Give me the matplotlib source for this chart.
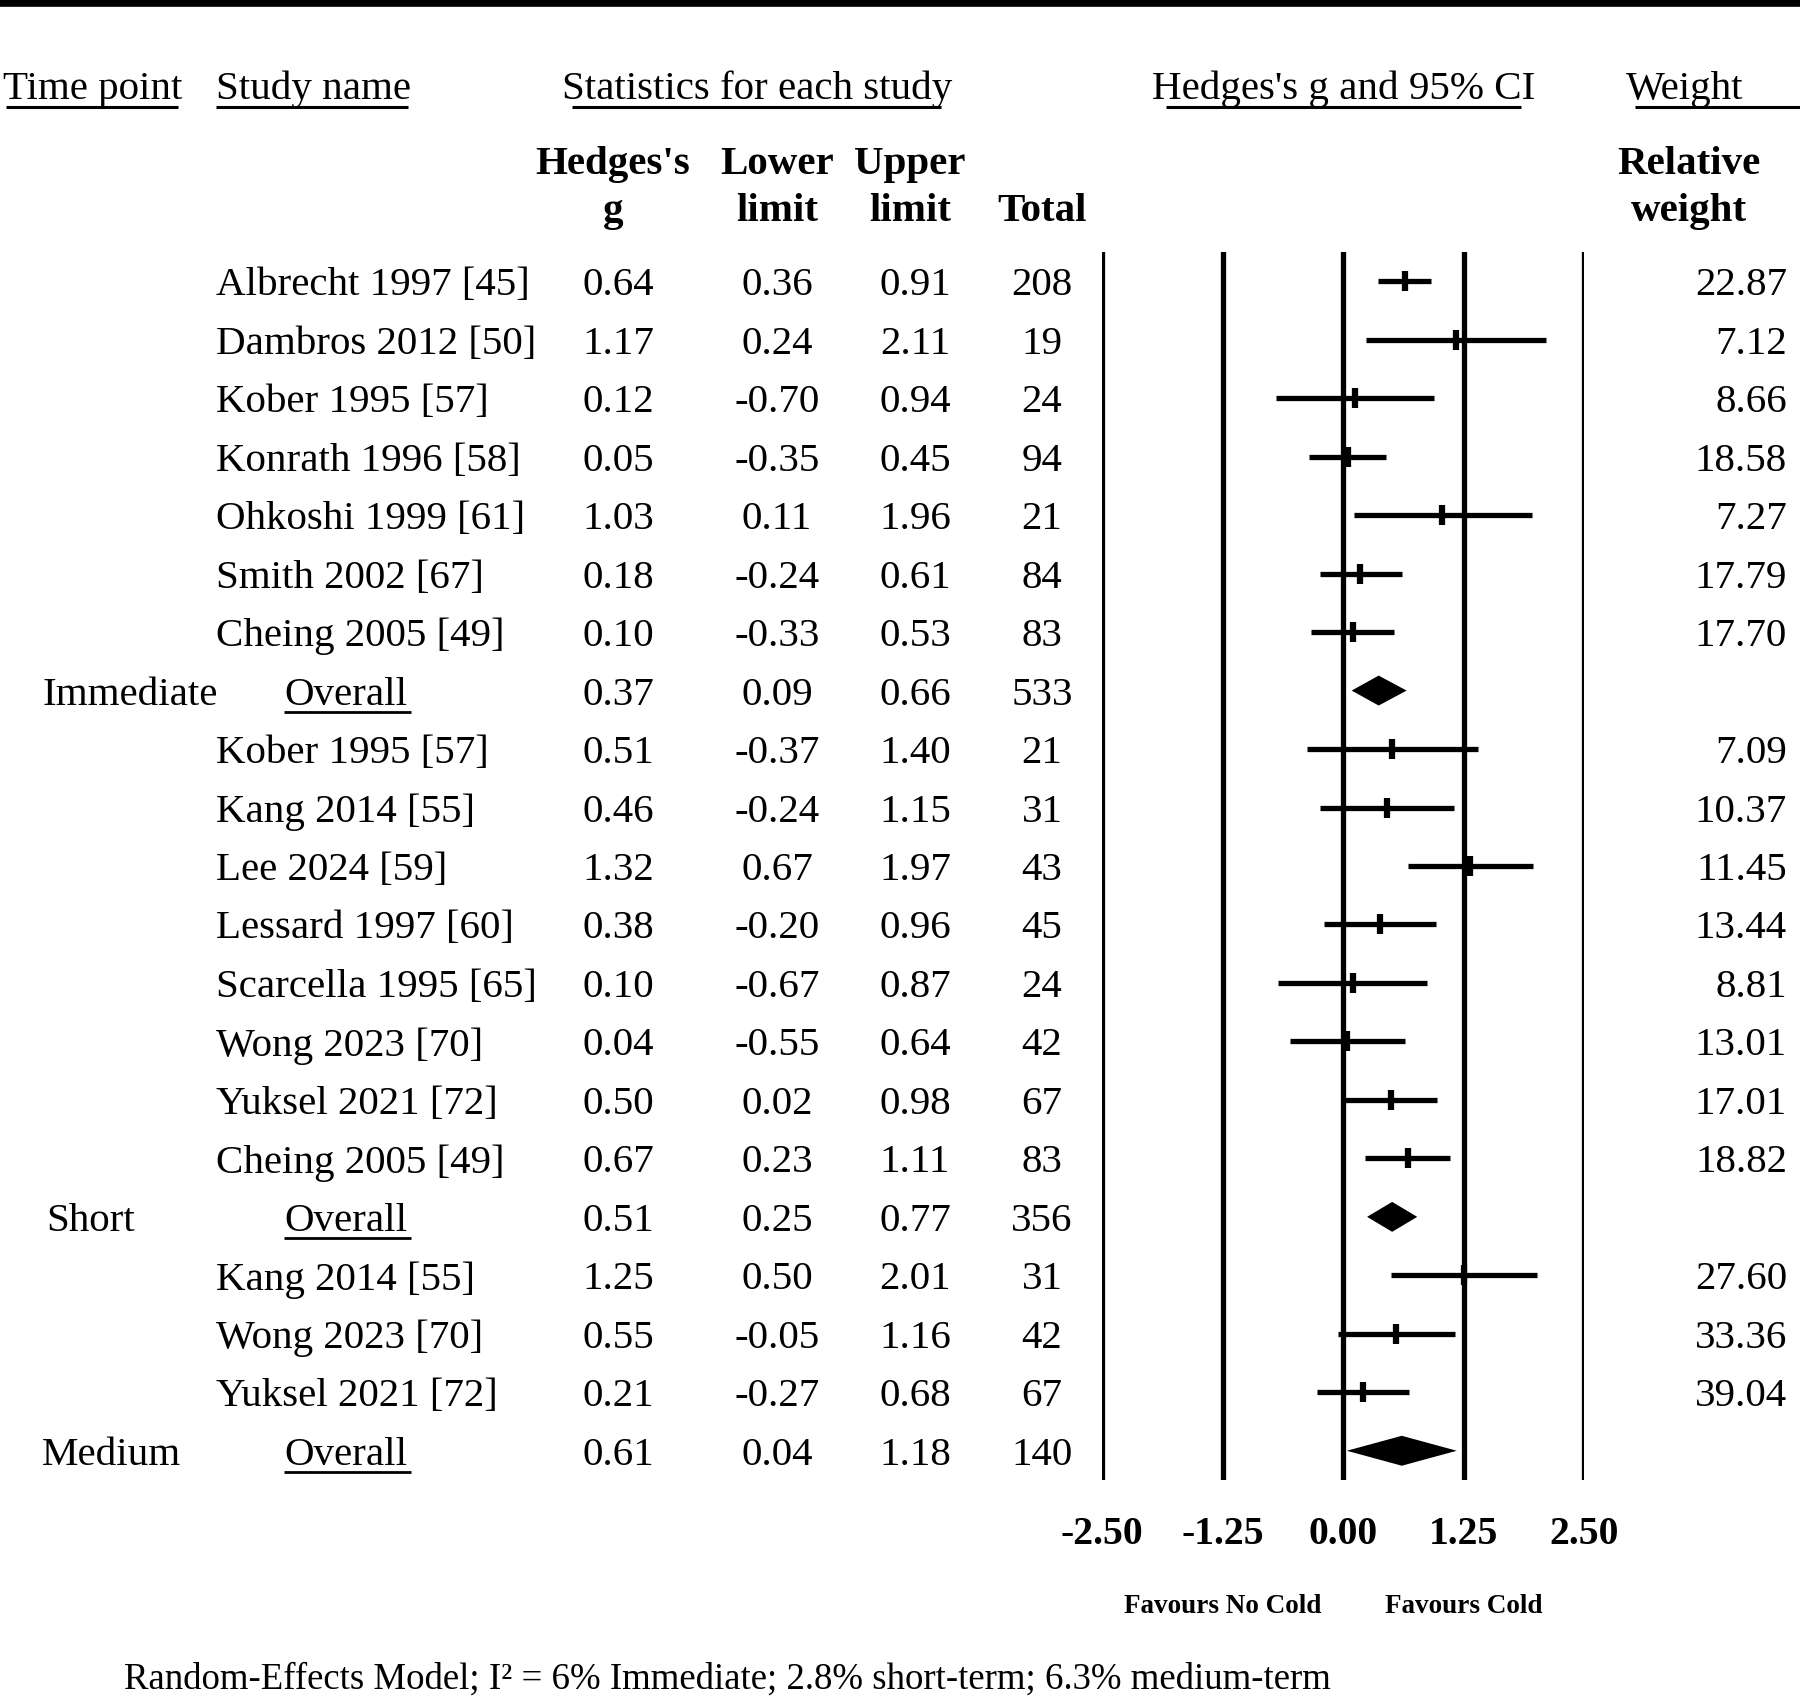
import matplotlib
matplotlib.use("Agg")
import matplotlib.pyplot as plt

plt.rcParams['font.family'] = ['Liberation Serif', 'DejaVu Serif']

# ---- data ----
time_point = [""] * 7 + ["Immediate"] + [""] * 8 + ["Short"] + [""] * 3 + ["Medium"]
study = ["Albrecht 1997 [45]", "Dambros 2012 [50]", "Kober 1995 [57]", "Konrath 1996 [58]",
         "Ohkoshi 1999 [61]", "Smith 2002 [67]", "Cheing 2005 [49]", "Overall",
         "Kober 1995 [57]", "Kang 2014 [55]", "Lee 2024 [59]", "Lessard 1997 [60]",
         "Scarcella 1995 [65]", "Wong 2023 [70]", "Yuksel 2021 [72]", "Cheing 2005 [49]", "Overall",
         "Kang 2014 [55]", "Wong 2023 [70]", "Yuksel 2021 [72]", "Overall"]
hedges_g = [0.64, 1.17, 0.12, 0.05, 1.03, 0.18, 0.10, 0.37,
            0.51, 0.46, 1.32, 0.38, 0.10, 0.04, 0.50, 0.67, 0.51,
            1.25, 0.55, 0.21, 0.61]
lower = [0.36, 0.24, -0.70, -0.35, 0.11, -0.24, -0.33, 0.09,
         -0.37, -0.24, 0.67, -0.20, -0.67, -0.55, 0.02, 0.23, 0.25,
         0.50, -0.05, -0.27, 0.04]
upper = [0.91, 2.11, 0.94, 0.45, 1.96, 0.61, 0.53, 0.66,
         1.40, 1.15, 1.97, 0.96, 0.87, 0.64, 0.98, 1.11, 0.77,
         2.01, 1.16, 0.68, 1.18]
total = [208, 19, 24, 94, 21, 84, 83, 533,
         21, 31, 43, 45, 24, 42, 67, 83, 356,
         31, 42, 67, 140]
weight = [22.87, 7.12, 8.66, 18.58, 7.27, 17.79, 17.70, None,
          7.09, 10.37, 11.45, 13.44, 8.81, 13.01, 17.01, 18.82, None,
          27.60, 33.36, 39.04, None]
ticks = [-2.50, -1.25, 0.00, 1.25, 2.50]
footnote = "Random-Effects Model; I\u00b2 = 6% Immediate; 2.8% short-term; 6.3% medium-term"

# ---- layout (pixels of the 1800x1699 canvas) ----
W, H = 1800, 1699
ROW0, STEP = 282.2, 58.48
FS = 29.5
DY = 0.06  # nudge text down so glyphs sit on the row centre


def r(ypix):
    return (ypix - ROW0) / STEP


fig = plt.figure(figsize=(W / 100, H / 100), dpi=100)
ax = fig.add_axes([0, 0, 1, 1])
ax.set_xlim(0, W)
ax.set_ylim(r(H), r(0))
ax.axis("off")

# top rule
ax.axhline(r(3.5), color="black", lw=5.5)

# header row 1 (underlined)
hdr_y = r(86) + DY
ul_y = r(108)
ax.text(3, hdr_y, "Time point", fontsize=FS, va="center", ha="left")
ax.hlines(ul_y, 6, 178, color="black", lw=2.2)
ax.text(216, hdr_y, "Study name", fontsize=FS, va="center", ha="left")
ax.hlines(ul_y, 216, 408, color="black", lw=2.2)
ax.text(757, hdr_y, "Statistics for each study", fontsize=FS, va="center", ha="center")
ax.hlines(ul_y, 572, 941, color="black", lw=2.2)
ax.text(1344, hdr_y, "Hedges's g and 95% CI", fontsize=FS, va="center", ha="center")
ax.hlines(ul_y, 1166, 1521, color="black", lw=2.2)
ax.text(1626, hdr_y, "Weight", fontsize=FS, va="center", ha="left")
ax.hlines(ul_y, 1635, W, color="black", lw=2.2)

# header rows 2-3 (bold)
l1, l2 = r(161) + DY, r(208) + DY
for x, a, b in [(613, "Hedges's", "g"), (777, "Lower", "limit"),
                (910, "Upper", "limit"), (1689, "Relative", "weight")]:
    ax.text(x, l1, a, fontsize=FS, fontweight="bold", va="center", ha="center")
    ax.text(x, l2, b, fontsize=FS, fontweight="bold", va="center", ha="center")
ax.text(1042, l2, "Total", fontsize=FS, fontweight="bold", va="center", ha="center")

# table body
for i in range(len(study)):
    y = i + DY
    if time_point[i]:
        x0 = 46 if time_point[i] == "Short" else 42
        ax.text(x0, y, time_point[i], fontsize=FS, va="center", ha="left")
    if study[i] == "Overall":
        ax.text(284, y, study[i], fontsize=FS, va="center", ha="left")
        ax.hlines(i + 0.36, 284, 411, color="black", lw=2.0)
    else:
        ax.text(216, y, study[i], fontsize=FS, va="center", ha="left")
    ax.text(618, y, f"{hedges_g[i]:.2f}", fontsize=FS, va="center", ha="center")
    ax.text(777, y, f"{lower[i]:.2f}", fontsize=FS, va="center", ha="center")
    ax.text(915, y, f"{upper[i]:.2f}", fontsize=FS, va="center", ha="center")
    ax.text(1042, y, f"{total[i]}", fontsize=FS, va="center", ha="center")
    if weight[i] is not None:
        ax.text(1787, y, f"{weight[i]:.2f}", fontsize=FS, va="center", ha="right")

ax.text(124, r(1689), footnote, fontsize=26.5, va="baseline", ha="left")

# ---- forest panel ----
fx0, fx1 = 1102, 1584
fy0, fy1 = 253, 1481
fa = fig.add_axes([fx0 / W, 1 - fy1 / H, (fx1 - fx0) / W, (fy1 - fy0) / H])
fa.set_xlim(-2.5, 2.5)
fa.set_ylim(len(study) - 0.5, -0.5)
for s in fa.spines.values():
    s.set_visible(False)
fa.patch.set_alpha(0)
for t in ticks:
    fa.axvline(t, color="black", lw=3.8, zorder=1)

for i in range(len(study)):
    if study[i] == "Overall":
        h = 0.256
        fa.fill([lower[i], hedges_g[i], upper[i], hedges_g[i]],
                [i, i - h, i, i + h], color="black", lw=0, zorder=3)
    else:
        fa.plot([lower[i], upper[i]], [i, i], color="black", lw=3.8,
                solid_capstyle="butt", zorder=2)
        fa.plot([hedges_g[i]], [i], marker="|", ms=13.7, mew=4.5,
                color="black", zorder=2)

fa.set_xticks(ticks)
fa.set_xticklabels([f"{t:.2f}" for t in ticks], fontsize=28.5, fontweight="bold")
fa.set_yticks([])
fa.tick_params(axis="x", length=0, pad=25.5)
fa.text(-1.25, r(1603) + DY, "Favours No Cold", fontsize=19.5, fontweight="bold",
        ha="center", va="center", clip_on=False)
fa.text(1.25, r(1603) + DY, "Favours Cold", fontsize=19.5, fontweight="bold",
        ha="center", va="center", clip_on=False)

fig.savefig("out.png", dpi=100)
